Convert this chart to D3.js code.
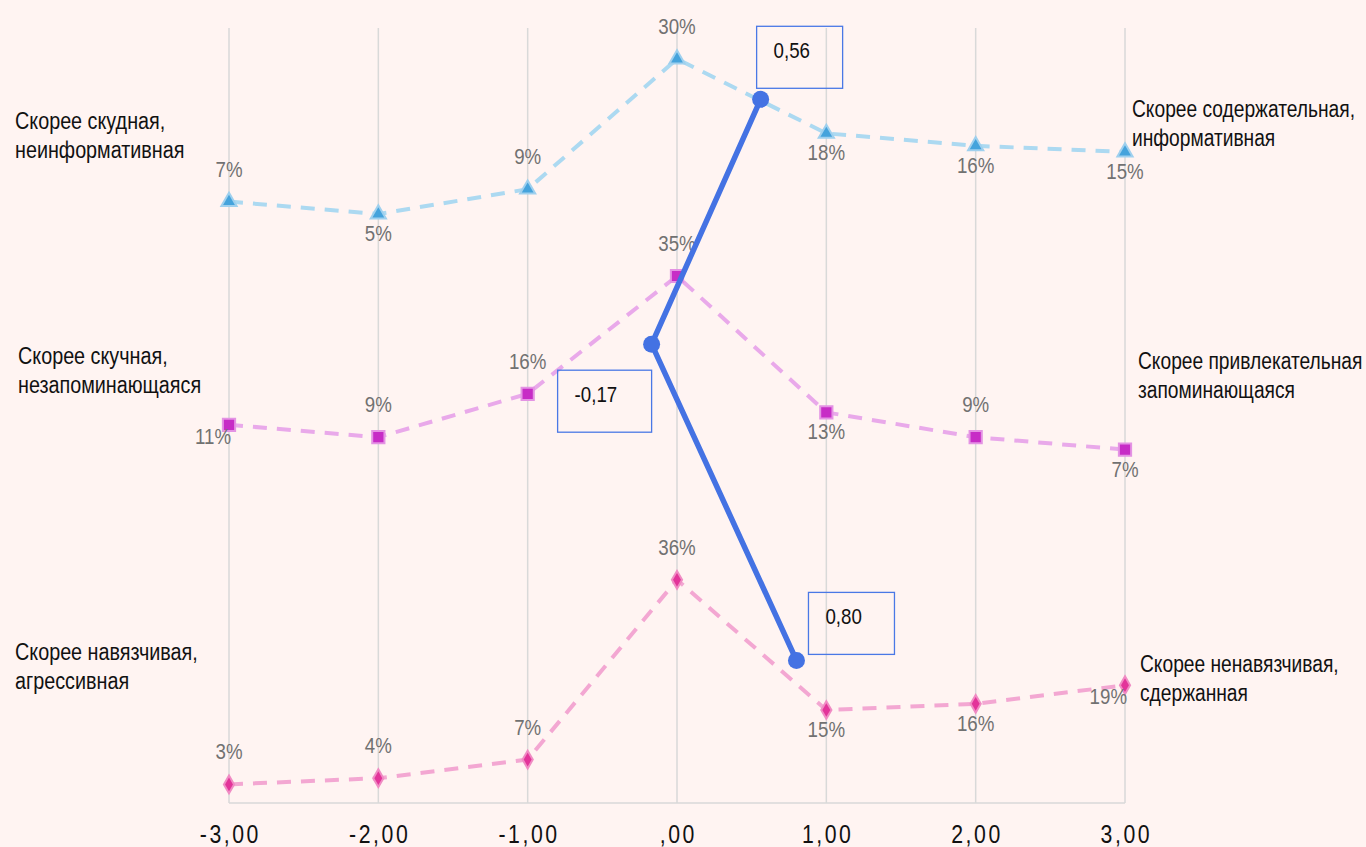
<!DOCTYPE html>
<html>
<head>
<meta charset="utf-8">
<script src="https://cdn.jsdelivr.net/npm/d3@7/dist/d3.min.js"></script>
<style>
  html, body { margin: 0; padding: 0; background: #fff4f2; }
  svg { display: block; }
  text { font-family: "Liberation Sans", Arial, sans-serif; }
</style>
</head>
<body>
<svg id="chart" width="1366" height="847"></svg>
<script>
// Scale points (-3 … 3) and their axis labels
const scalePoints = [-3, -2, -1, 0, 1, 2, 3];
const tickLabels = ["-3,00", "-2,00", "-1,00", ",00", "1,00", "2,00", "3,00"];

// Share of answers (%) for every scale point, one array per attribute pair
const informative = [7, 5, 9, 30, 18, 16, 15];
const memorable = [11, 9, 16, 35, 13, 9, 7];
const unobtrusive = [3, 4, 7, 36, 15, 16, 19];

// Base level of each attribute band on the vertical axis
const bandBase = [90, 50, 0];

// Mean score per attribute pair and its vertical level
const meanValues = [0.56, -0.17, 0.80];
const meanLabels = ["0,56", "-0,17", "0,80"];
const meanLevels = [113.5, 74, 23];

// Pole captions
const leftCaptions = [
  ["Скорее скудная,", "неинформативная"],
  ["Скорее скучная,", "незапоминающаяся"],
  ["Скорее навязчивая,", "агрессивная"]
];
const rightCaptions = [
  ["Скорее содержательная,", "информативная"],
  ["Скорее привлекательная", "запоминающаяся"],
  ["Скорее ненавязчивая,", "сдержанная"]
];

// Where each percentage label sits relative to its marker
const labelSides = [
  ["t", "b", "t", "t", "b", "b", "b"],
  ["l", "t", "t", "t", "b", "t", "b"],
  ["t", "t", "t", "t", "b", "b", "l"]
];

const series = [
  { values: informative, line: "#acd9f1", fill: "#45a3dc", halo: "#9fd0ee", shape: d3.symbolTriangle, size: 100 },
  { values: memorable, line: "#e9a9ea", fill: "#c72cc6", halo: "#e493e4", shape: d3.symbolSquare, size: 150 },
  { values: unobtrusive, line: "#f3a7d2", fill: "#e3349a", halo: "#f08cc4", shape: d3.symbolDiamond, size: 90 }
];

// Text is set in a condensed width
function squeeze(sel, ax, k = 0.85) {
  sel.attr("transform", function () {
    const px = ax != null ? ax : +d3.select(this).attr("x") || 0;
    return `matrix(${k},0,0,1,${px * (1 - k)},0)`;
  });
}

const svg = d3.select("#chart");
const x = d3.scaleLinear().domain([-3, 3]).range([229, 1125]);
const y = d3.scaleLinear().domain([0, 125]).range([803, 28]);

// Vertical gridlines
svg.append("g").selectAll("line").data(scalePoints).join("line")
  .attr("x1", d => x(d)).attr("x2", d => x(d))
  .attr("y1", y(125)).attr("y2", y(0))
  .attr("stroke", "#d9d9d9").attr("stroke-width", 1.5);

// Horizontal axis line
svg.append("line")
  .attr("x1", x(-3)).attr("x2", x(3))
  .attr("y1", y(0)).attr("y2", y(0))
  .attr("stroke", "#d9d9d9").attr("stroke-width", 1.5);

// Axis tick labels
const xAxis = d3.axisBottom(x).tickValues(scalePoints)
  .tickFormat((d, i) => tickLabels[i]).tickSize(0).tickPadding(0);
const axisG = svg.append("g").attr("transform", `translate(0,${y(0)})`).call(xAxis);
axisG.select(".domain").remove();
axisG.selectAll("text")
  .attr("dy", null).attr("y", 40).attr("dx", "1px")
  .attr("font-size", 25).attr("fill", "#111")
  .attr("letter-spacing", "3px")
  .style("font-family", '"Liberation Sans", Arial, sans-serif')
  .attr("transform", "scale(0.85,1)");

// Percentage series: dashed lines, markers, labels
series.forEach((s, si) => {
  const pts = s.values.map((v, i) => [x(scalePoints[i]), y(bandBase[si] + v)]);
  const g = svg.append("g");
  g.append("path")
    .attr("d", d3.line()(pts))
    .attr("fill", "none").attr("stroke", s.line)
    .attr("stroke-width", 4).attr("stroke-dasharray", "14,10");
  g.selectAll("path.m").data(pts).join("path").attr("class", "m")
    .attr("transform", d => `translate(${d[0]},${d[1]})`)
    .attr("d", d3.symbol().type(s.shape).size(s.size))
    .attr("fill", s.fill).attr("stroke", s.halo).attr("stroke-width", 2);
  g.selectAll("text").data(pts).join("text")
    .attr("x", (d, i) => labelSides[si][i] === "l" ? d[0] + 2 : d[0])
    .attr("y", (d, i) => {
      const side = labelSides[si][i];
      return side === "t" ? d[1] - 25 : side === "b" ? d[1] + 27 : d[1] + 19;
    })
    .attr("text-anchor", (d, i) => labelSides[si][i] === "l" ? "end" : "middle")
    .attr("font-size", 22).attr("fill", "#717171")
    .text((d, i) => s.values[i] + "%")
    .call(squeeze);
});

// Pole captions
function captions(list, xs, baselines, k) {
  list.forEach((lines, i) => {
    const t = svg.append("text").attr("font-size", 23).attr("fill", "#111");
    lines.forEach((ln, j) => {
      t.append("tspan").attr("x", xs[i]).attr("y", baselines[i] + j * 29).text(ln);
    });
    squeeze(t, xs[i], k);
  });
}
captions(leftCaptions, [15, 18, 15], [129, 364, 660], 0.86);
captions(rightCaptions, [1132, 1138, 1140], [117, 369, 672], 0.835);

// Mean scores: solid line with dots and boxed labels
const meanPts = meanValues.map((v, i) => [x(v), y(meanLevels[i])]);
const boxOffsets = [[-4, -73], [-94, 26], [12, -68]];
const boxW = [86, 94, 86], boxH = 62;
const mg = svg.append("g");
meanPts.forEach((p, i) => {
  const bx = p[0] + boxOffsets[i][0], by = p[1] + boxOffsets[i][1];
  mg.append("rect")
    .attr("x", bx).attr("y", by).attr("width", boxW[i]).attr("height", boxH)
    .attr("fill", "none").attr("stroke", "#4a78e6").attr("stroke-width", 1.3);
  mg.append("text")
    .attr("x", bx + 17).attr("y", by + 32)
    .attr("font-size", 22).attr("fill", "#111")
    .text(meanLabels[i])
    .call(squeeze);
});
mg.append("path")
  .attr("d", d3.line()(meanPts))
  .attr("fill", "none").attr("stroke", "#4472e3").attr("stroke-width", 5.5)
  .attr("stroke-linejoin", "round");
mg.selectAll("circle").data(meanPts).join("circle")
  .attr("cx", d => d[0]).attr("cy", d => d[1]).attr("r", 8.5)
  .attr("fill", "#4472e3");
</script>
</body>
</html>
